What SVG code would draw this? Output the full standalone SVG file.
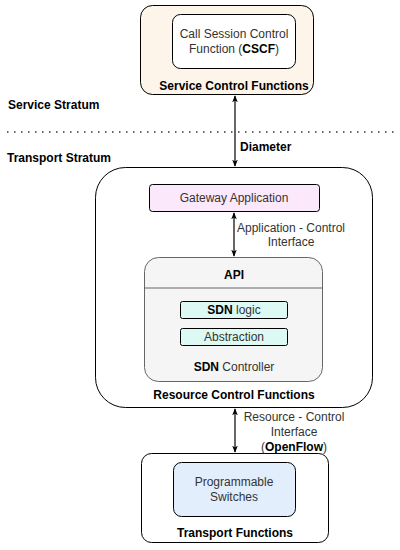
<svg xmlns="http://www.w3.org/2000/svg" width="400" height="550" viewBox="0 0 400 550">
<defs>
<marker id="ah" viewBox="0 0 10 10" refX="9" refY="5" markerWidth="7" markerHeight="7" orient="auto-start-reverse" markerUnits="userSpaceOnUse">
<path d="M0,1 L10,5 L0,9 L2.5,5 Z" fill="#000"/>
</marker>
<style>
text{font-family:"Liberation Sans",Arial,sans-serif;font-size:12px;fill:#333;text-anchor:middle;dominant-baseline:central}
.b{font-weight:bold;fill:#000}
.l{text-anchor:start}
.box{stroke:#000;stroke-width:1}
.conn line{stroke:#000;stroke-width:1.2}
</style>
</defs>
<rect width="400" height="550" fill="#fff"/>
<line x1="7" y1="132" x2="397" y2="132" stroke="#333" stroke-width="1.5" stroke-dasharray="1.5,5.5"/>
<text class="b l" x="8" y="105">Service Stratum</text>
<text class="b l" x="7" y="158">Transport Stratum</text>
<g id="service">
<rect class="box" x="140.5" y="5.5" width="173" height="89" rx="12" fill="#fdf5e9"/>
<text class="b" x="234" y="86">Service Control Functions</text>
</g>
<g id="cscf">
<rect class="box" x="172.5" y="14.5" width="123" height="54" rx="8" fill="#fff"/>
<text x="234" y="34">Call Session Control</text>
<text x="234" y="49">Function (<tspan class="b">CSCF</tspan>)</text>
</g>
<g id="resource">
<rect class="box" x="95.5" y="167.5" width="277" height="240" rx="30" fill="#fff"/>
<text class="b" x="234" y="395">Resource Control Functions</text>
</g>
<g id="gateway">
<rect class="box" x="149.5" y="184.5" width="170" height="27" rx="3" fill="#fbe9fb"/>
<text x="234" y="198">Gateway Application</text>
</g>
<g id="sdn">
<rect x="144.5" y="257.5" width="178" height="124" rx="14" fill="#f5f5f5" stroke="#666"/>
<line x1="144.5" y1="288" x2="322.5" y2="288" stroke="#666"/>
<text class="b" x="234" y="275">API</text>
<text x="234" y="367"><tspan class="b">SDN</tspan> Controller</text>
</g>
<g id="sdnlogic">
<rect class="box" x="180.5" y="301.5" width="107" height="17" rx="2" fill="#ddf9f3"/>
<text x="234" y="310"><tspan class="b">SDN</tspan> logic</text>
</g>
<g id="abstraction">
<rect class="box" x="180.5" y="328.5" width="107" height="17" rx="2" fill="#ddf9f3"/>
<text x="234" y="337">Abstraction</text>
</g>
<g id="transport">
<rect class="box" x="141.5" y="453.5" width="187" height="89" rx="10" fill="#fff"/>
<text class="b" x="235" y="533">Transport Functions</text>
</g>
<g id="switches">
<rect class="box" x="173.5" y="462.5" width="122" height="54" rx="8" fill="#e3eefc"/>
<text x="234" y="482">Programmable</text>
<text x="234" y="497">Switches</text>
</g>
<g class="conn" id="connectors">
<line x1="235" y1="96" x2="235" y2="166" marker-start="url(#ah)" marker-end="url(#ah)"/>
<line x1="234" y1="213" x2="234" y2="256" marker-start="url(#ah)" marker-end="url(#ah)"/>
<line x1="235" y1="409" x2="235" y2="452" marker-start="url(#ah)" marker-end="url(#ah)"/>
</g>
<text class="b l" x="240" y="147">Diameter</text>
<text x="291" y="228">Application - Control</text>
<text x="291" y="242">Interface</text>
<text x="294" y="417">Resource - Control</text>
<text x="294" y="432">Interface</text>
<text x="294" y="447">(<tspan class="b">OpenFlow</tspan>)</text>
</svg>
